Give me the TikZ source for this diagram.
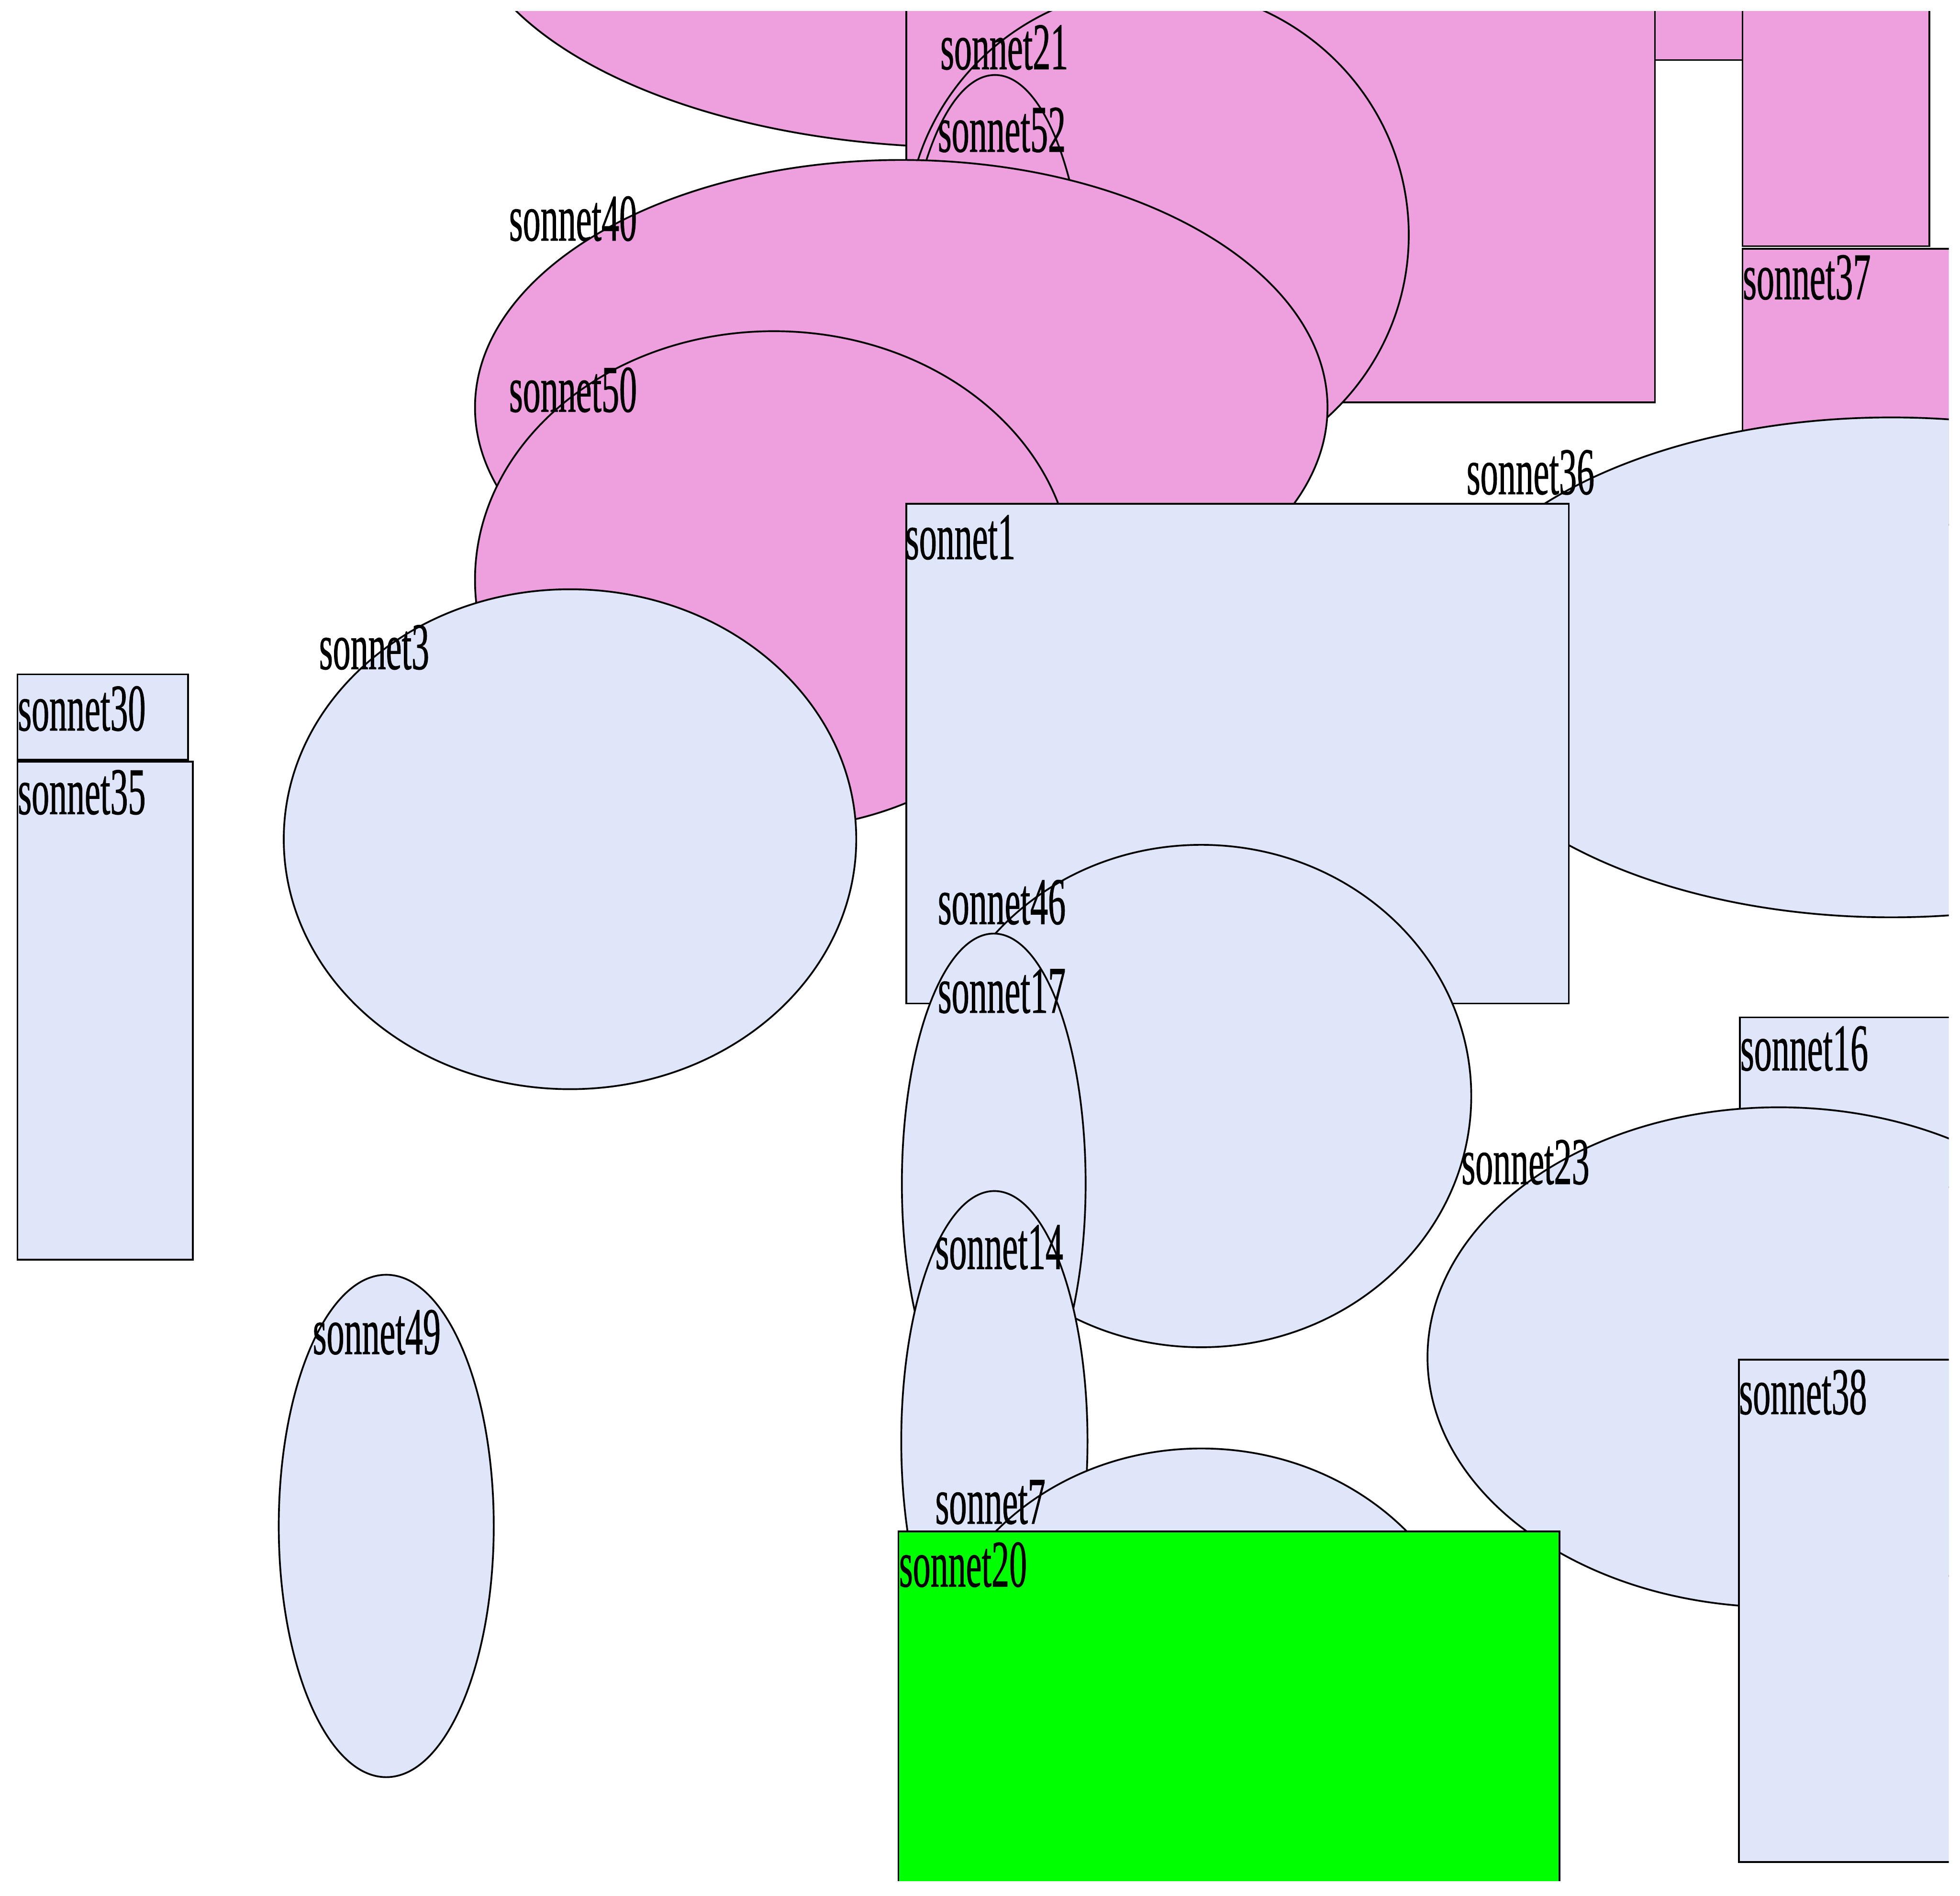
\documentclass[tikz,border=0pt]{standalone}
\usepackage{fontspec}
\usepackage{tikz}
\usetikzlibrary{shapes.geometric}
\newfontfamily\tagfont[FakeStretch=0.53,FakeBold=0.6]{Liberation Serif}
\definecolor{sonpink}{RGB}{238,160,222}
\definecolor{sonlav}{RGB}{224,230,250}
\definecolor{songreen}{RGB}{0,255,0}
\tikzset{
  sonoval/.style={ellipse, draw=black, line width=1pt, inner sep=0pt, outer sep=0pt},
  sonbox/.style={rectangle, draw=black, line width=1pt, inner sep=0pt, outer sep=0pt},
  dims/.style 2 args={minimum width=#1*0.025cm, minimum height=#2*0.025cm},
  tag/.style={anchor=west, inner sep=0pt, font=\tagfont\fontsize{38}{40}\selectfont},
}
\begin{document}
\begin{tikzpicture}[x=0.025cm, y=-0.025cm]
  \path[use as bounding box, fill=white] (0,0) rectangle (1568,1517);
  \begin{scope}
    \clip (9,9) rectangle (1559,1505);
    \node[sonoval, fill=sonpink, dims={810}{396}] (e0) at (775,-80) {};
    \node[sonbox, fill=sonpink, dims={599}{422}] (r0) at (1024.5,111) {};
    \node[sonoval, fill=sonpink, dims={402}{396}] (s21) at (926,188) {};
    \node[tag] (t21) at (752,38) {sonnet21};
    \node[sonoval, fill=sonpink, dims={146}{400}] (s52) at (796,260) {};
    \node[tag] (t52) at (750,104) {sonnet52};
    \node[sonoval, fill=sonpink, dims={682}{396}] (s40) at (721,326) {};
    \node[tag] (t40) at (407,175) {sonnet40};
    \node[sonoval, fill=sonpink, dims={478}{398}] (s50) at (619,464) {};
    \node[tag] (t50) at (407,312) {sonnet50};
    \node[sonoval, fill=sonlav, dims={458}{400}] (s3) at (456,671.5) {};
    \node[tag] (t3) at (255,518) {sonnet3};
    \node[sonbox, fill=sonpink, dims={70}{148}] (r1) at (1359,-26) {};
    \node[sonbox, fill=sonpink, dims={149.5}{297}] (r2) at (1468.75,48.5) {};
    \node[sonbox, fill=sonpink, dims={306}{221}] (s37) at (1547,309.5) {};
    \node[tag] (t37) at (1394,222) {sonnet37};
    \node[sonoval, fill=sonlav, dims={734}{400}] (s36) at (1513,534) {};
    \node[tag] (t36) at (1173,378) {sonnet36};
    \node[sonbox, fill=sonlav, dims={530}{400}] (s1) at (990,603) {};
    \node[tag] (t1) at (724,430) {sonnet1};
    \node[sonoval, fill=sonlav, dims={432}{402}] (s46) at (961,877) {};
    \node[tag] (t46) at (750,722) {sonnet46};
    \node[sonoval, fill=sonlav, dims={147}{400}] (s17) at (795,947) {};
    \node[tag] (t17) at (750,793) {sonnet17};
    \node[sonoval, fill=sonlav, dims={149}{400}] (s14) at (795.5,1153) {};
    \node[tag] (t14) at (748,998) {sonnet14};
    \node[sonoval, fill=sonlav, dims={442}{400}] (s7) at (961,1359) {};
    \node[tag] (t7) at (748,1202) {sonnet7};
    \node[sonbox, fill=sonlav, dims={308}{136}] (s16) at (1546,882) {};
    \node[tag] (t16) at (1392,839) {sonnet16};
    \node[sonoval, fill=sonlav, dims={562}{400}] (s23) at (1423,1086) {};
    \node[tag] (t23) at (1169,930) {sonnet23};
    \node[sonbox, fill=songreen, dims={528.8}{374.5}] (s20) at (983.1,1412.75) {};
    \node[tag] (t20) at (719,1252) {sonnet20};
    \node[sonbox, fill=sonlav, dims={309}{402}] (s38) at (1545.5,1289) {};
    \node[tag] (t38) at (1391,1114) {sonnet38};
    \node[sonbox, fill=sonlav, dims={136.5}{68.4}] (s30) at (82.25,573.8) {};
    \node[tag] (t30) at (14,567) {sonnet30};
    \node[sonbox, fill=sonlav, dims={140.3}{398.5}] (s35) at (84.15,808.75) {};
    \node[tag] (t35) at (14,634) {sonnet35};
    \node[sonoval, fill=sonlav, dims={172}{402}] (s49) at (309,1221) {};
    \node[tag] (t49) at (250,1066) {sonnet49};
  \end{scope}
\end{tikzpicture}
\end{document}
